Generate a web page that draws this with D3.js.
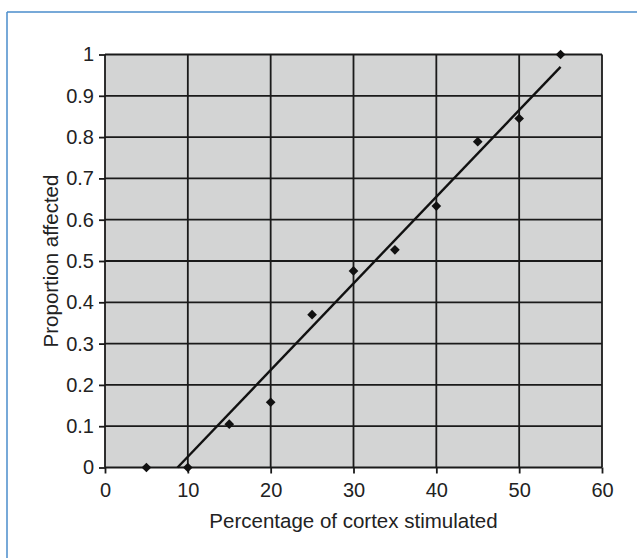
<!DOCTYPE html>
<meta charset="utf-8">
<script src="https://cdn.jsdelivr.net/npm/d3@7"></script>
<style>
body { margin: 0; background: #fff; }
text { font-family: "Liberation Sans", Arial, sans-serif; fill: #222; }
.grid line { stroke: #1a1a1a; stroke-width: 1.8px; }
.axis path, .axis line { stroke: #1a1a1a; stroke-width: 1.8px; }
.axis text { font-size: 20px; fill: #222; }
</style>
<body>
<script>

// percentage of cortex stimulated vs proportion affected
var pctStimulated = [5, 10, 15, 20, 25, 30, 35, 40, 45, 50, 55];
var propAffected = [0, 0, 0.105, 0.158, 0.37, 0.476, 0.527, 0.633, 0.789, 0.845, 1.0];
var xTicks = [0, 10, 20, 30, 40, 50, 60];
var yTicks = [0, 0.1, 0.2, 0.3, 0.4, 0.5, 0.6, 0.7, 0.8, 0.9, 1];

var width = 637,
    height = 558;

var svg = d3.select("body").append("svg")
    .attr("width", width)
    .attr("height", height);

// outer frame (top and left edges only visible)
svg.append("line")
    .attr("x1", 7).attr("x2", width).attr("y1", 12).attr("y2", 12)
    .attr("stroke", "#4a8ccb").attr("stroke-width", 1.5);
svg.append("line")
    .attr("x1", 7).attr("x2", 7).attr("y1", 12).attr("y2", height)
    .attr("stroke", "#4a8ccb").attr("stroke-width", 1.5);

var x = d3.scaleLinear().domain([0, 60]).range([105, 602]);
var y = d3.scaleLinear().domain([0, 1]).range([467.5, 54.5]);

// plot background
svg.append("rect")
    .attr("x", x(0)).attr("y", y(1))
    .attr("width", x(60) - x(0)).attr("height", y(0) - y(1))
    .attr("fill", "#d3d4d4");

// grid
var grid = svg.append("g").attr("class", "grid");
grid.selectAll(".h").data(yTicks).enter().append("line")
    .attr("x1", x(0)).attr("x2", x(60))
    .attr("y1", function(d) { return y(d); })
    .attr("y2", function(d) { return y(d); });
grid.selectAll(".v").data(xTicks).enter().append("line")
    .attr("y1", y(0)).attr("y2", y(1))
    .attr("x1", function(d) { return x(d); })
    .attr("x2", function(d) { return x(d); });

// axes
svg.append("g")
    .attr("class", "axis")
    .attr("transform", "translate(0," + y(0) + ")")
    .call(d3.axisBottom(x).tickValues(xTicks).tickSize(6).tickSizeOuter(0).tickPadding(9))
    .call(function(g) { g.select(".domain").remove(); });

svg.append("g")
    .attr("class", "axis")
    .attr("transform", "translate(" + x(0) + ",0)")
    .call(d3.axisLeft(y).tickValues(yTicks).tickSize(6).tickSizeOuter(0).tickPadding(5)
      .tickFormat(function(d) { return d3.format("")(+d.toFixed(1)); }))
    .call(function(g) { g.select(".domain").remove(); });

// least squares trend line
var mx = d3.mean(pctStimulated),
    my = d3.mean(propAffected);
var sxy = 0, sxx = 0;
pctStimulated.forEach(function(v, i) {
  sxy += (v - mx) * (propAffected[i] - my);
  sxx += (v - mx) * (v - mx);
});
var slope = sxy / sxx,
    intercept = my - slope * mx;
var xStart = -intercept / slope,
    xEnd = d3.max(pctStimulated);

svg.append("line")
    .attr("x1", x(xStart)).attr("y1", y(0))
    .attr("x2", x(xEnd)).attr("y2", y(intercept + slope * xEnd))
    .attr("stroke", "#111").attr("stroke-width", 2.4);

// points
svg.selectAll(".pt")
    .data(pctStimulated)
    .enter().append("path")
    .attr("d", d3.symbol().type(d3.symbolDiamond2).size(60))
    .attr("transform", function(d, i) {
      return "translate(" + x(d) + "," + y(propAffected[i]) + ")";
    })
    .attr("fill", "#111");

// axis titles
svg.append("text")
    .attr("x", (x(0) + x(60)) / 2)
    .attr("y", 528)
    .attr("text-anchor", "middle")
    .style("font-size", "20.5px")
    .text("Percentage of cortex stimulated");

svg.append("text")
    .attr("transform", "translate(58," + ((y(0) + y(1)) / 2) + ") rotate(-90)")
    .attr("text-anchor", "middle")
    .style("font-size", "20.5px")
    .text("Proportion affected");

</script>
</body>
